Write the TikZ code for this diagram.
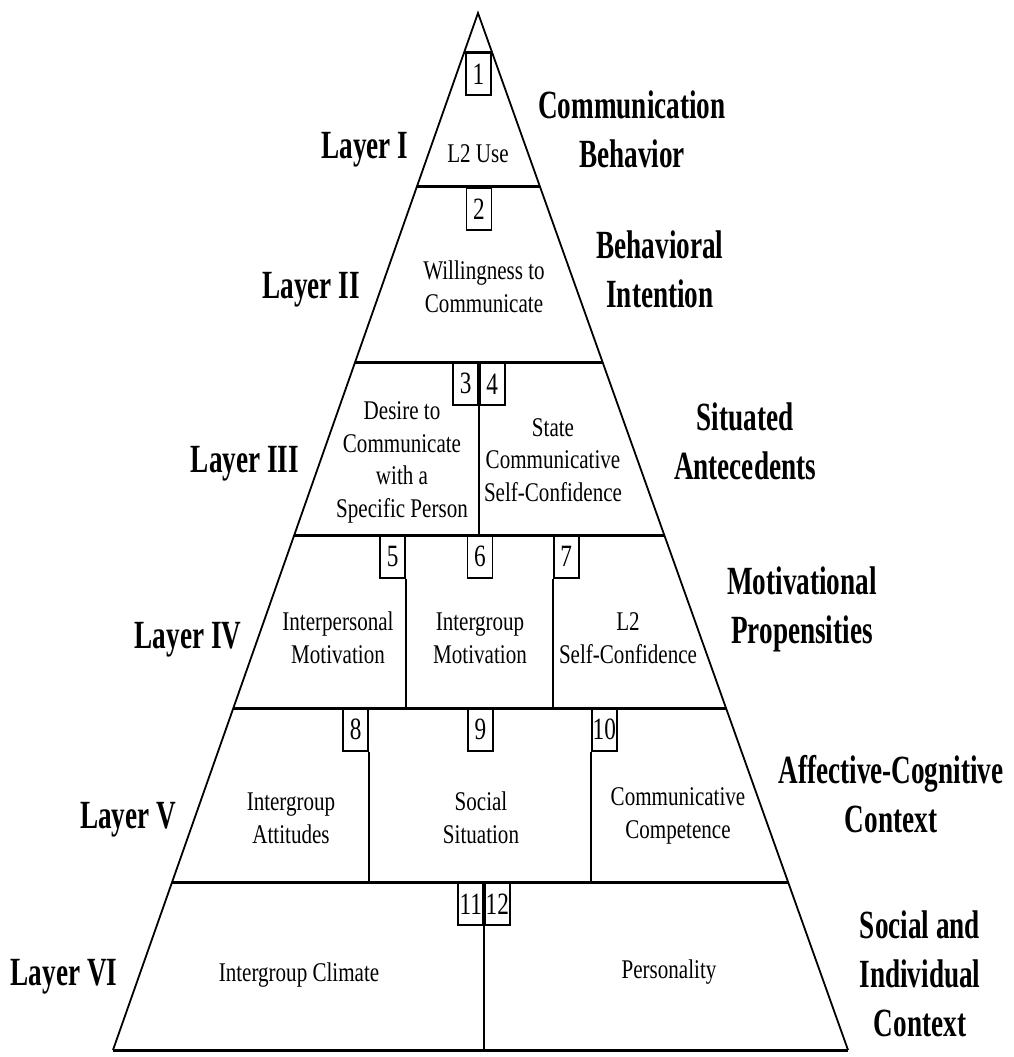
\documentclass[tikz,border=0pt]{standalone}
\usepackage{fontspec}
\setmainfont{Liberation Serif}
\newfontfamily\labfont[FakeStretch=0.68]{Liberation Serif}
\newfontfamily\cellfont[FakeStretch=0.78]{Liberation Serif}
\newfontfamily\numfont[FakeStretch=0.75]{Liberation Serif}
\usetikzlibrary{calc}

\begin{document}
\begin{tikzpicture}[x=1pt,y=-1pt,
  side/.style={line width=1.8pt, line join=miter},
  layerline/.style={line width=3pt},
  divider/.style={line width=1.5pt},
  numbox/.style={draw, line width=1.6pt, minimum width=25pt, minimum height=42pt,
    inner sep=0pt, fill=white, font=\numfont\fontsize{31}{31}\selectfont},
  lab/.style={font=\labfont\bfseries\fontsize{40}{49}\selectfont, align=center,
    inner sep=0pt, anchor=base},
  cell/.style={font=\cellfont\fontsize{27}{32.5}\selectfont, align=center,
    inner sep=0pt, anchor=base},
]
\useasboundingbox (0,0) rectangle (1013,1057);
\fill[white] (0,0) rectangle (1013,1057);

% pyramid corners
\coordinate (A)  at (478,13);
\coordinate (BL) at (113,1050);
\coordinate (BR) at (848,1050);

% layer boundaries on the sides
\foreach \i/\t in {0/0.03761,1/0.16779,2/0.33655,3/0.50338,4/0.67020,5/0.83799}{
  \coordinate (l\i L) at ($(A)!\t!(BL)$);
  \coordinate (l\i R) at ($(A)!\t!(BR)$);
}

% outline and layer lines
\draw[side] (BL) -- (A) -- (BR);
\draw[layerline] (BL) -- (BR);
\foreach \i in {0,...,5}{
  \draw[layerline] (l\i L) -- (l\i R);
}

% numbered boxes
\node[numbox, anchor=north] (b1) at (478.5,52) {1};
\node[numbox, anchor=north] (b2) at (479,187) {2};
\node[numbox, anchor=north east] (b3) at (479,362) {3};
\node[numbox, anchor=north west] (b4) at (479,362) {4};
\node[numbox, anchor=north east] (b5) at (406,535) {5};
\node[numbox, anchor=north] (b6) at (480,535) {6};
\node[numbox, anchor=north west] (b7) at (553,535) {7};
\node[numbox, anchor=north east] (b8) at (369,708) {8};
\node[numbox, anchor=north] (b9) at (480.5,708) {9};
\node[numbox, anchor=north west] (b10) at (591,708) {10};
\node[numbox, anchor=north east] (b11) at (484,882) {11};
\node[numbox, anchor=north west] (b12) at (484,882) {12};

% dividers
\draw[divider] (b3.south east) -- (b3.south east |- l3L);
\draw[divider] (b5.south east) -- (b5.south east |- l4L);
\draw[divider] (b7.south west) -- (b7.south west |- l4L);
\draw[divider] (b8.south east) -- (b8.south east |- l5L);
\draw[divider] (b10.south west) -- (b10.south west |- l5L);
\draw[divider] (b11.south east) -- (b11.south east |- BL);

% cell texts (anchor = baseline of last line)
\node[cell] (c1) at (478,162) {L2 Use};
\node[cell] (c2) at (484,312) {Willingness to\\Communicate};
\node[cell] (c3) at (402,517) {Desire to\\Communicate\\with a\\Specific Person};
\node[cell] (c4) at (553,501) {State\\Communicative\\Self-Confidence};
\node[cell] (c5) at (338,663) {Interpersonal\\Motivation};
\node[cell] (c6) at (480,663) {Intergroup\\Motivation};
\node[cell] (c7) at (628,663) {L2\\Self-Confidence};
\node[cell] (c8) at (291,843) {Intergroup\\Attitudes};
\node[cell] (c9) at (481,843) {Social\\Situation};
\node[cell] (c10) at (678,838) {Communicative\\Competence};
\node[cell] (c11) at (299,981) {Intergroup Climate};
\node[cell] (c12) at (669,978) {Personality};

% layer labels (left)
\node[lab] (lay1) at (365,158) {Layer I};
\node[lab] (lay2) at (311,298) {Layer II};
\node[lab] (lay3) at (245,472) {Layer III};
\node[lab] (lay4) at (188,648) {Layer IV};
\node[lab] (lay5) at (128,828) {Layer V};
\node[lab] (lay6) at (64,985) {Layer VI};

% category labels (right, anchor = baseline of last line)
\node[lab] (cat1) at (632,167) {Communication\\Behavior};
\node[lab] (cat2) at (660,307) {Behavioral\\Intention};
\node[lab] (cat3) at (745,479) {Situated\\Antecedents};
\node[lab] (cat4) at (802,643) {Motivational\\Propensities};
\node[lab] (cat5) at (891,832) {Affective-Cognitive\\Context};
\node[lab] (cat6) at (920,1036) {Social and\\Individual\\Context};
\end{tikzpicture}
\end{document}
